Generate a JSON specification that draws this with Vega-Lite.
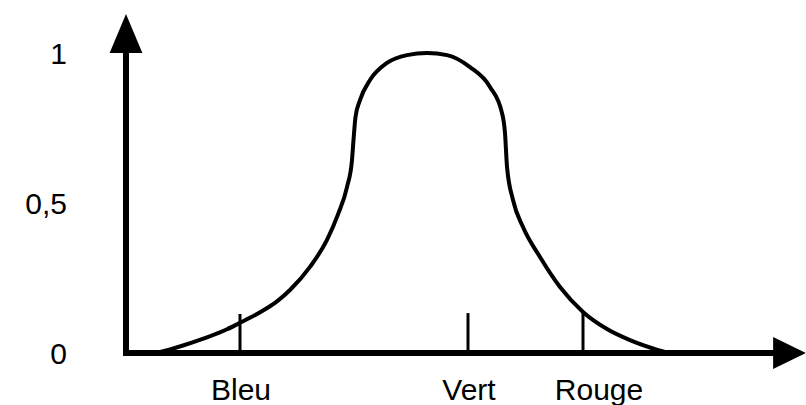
{
  "$schema": "https://vega.github.io/schema/vega-lite/v6.json",
  "width": 806,
  "height": 405,
  "autosize": "none",
  "padding": 0,
  "background": "white",
  "config": {"view": {"stroke": null}},
  "datasets": {
    "curve": [
      {"x": 156, "v": 0},
      {"x": 170, "v": 0.012},
      {"x": 183, "v": 0.025},
      {"x": 207, "v": 0.052},
      {"x": 227, "v": 0.079},
      {"x": 239, "v": 0.099},
      {"x": 257, "v": 0.13},
      {"x": 277, "v": 0.172},
      {"x": 290, "v": 0.21},
      {"x": 310, "v": 0.287},
      {"x": 327, "v": 0.377},
      {"x": 338, "v": 0.462},
      {"x": 347, "v": 0.553},
      {"x": 352, "v": 0.643},
      {"x": 353.5, "v": 0.71},
      {"x": 355.5, "v": 0.787},
      {"x": 360, "v": 0.843},
      {"x": 370, "v": 0.91},
      {"x": 387, "v": 0.967},
      {"x": 407, "v": 0.993},
      {"x": 427, "v": 1.0},
      {"x": 447, "v": 0.993},
      {"x": 470, "v": 0.953},
      {"x": 490, "v": 0.887},
      {"x": 502, "v": 0.8},
      {"x": 505, "v": 0.733},
      {"x": 507, "v": 0.621},
      {"x": 513, "v": 0.51},
      {"x": 523, "v": 0.42},
      {"x": 540, "v": 0.32},
      {"x": 560, "v": 0.22},
      {"x": 583, "v": 0.137},
      {"x": 607, "v": 0.08},
      {"x": 630, "v": 0.043},
      {"x": 653, "v": 0.015},
      {"x": 668, "v": 0}
    ],
    "axes": [
      {"x": 123, "v": 0, "x2": 780, "v2": 0},
      {"x": 126, "v": -0.008, "x2": 126, "v2": 1.02}
    ],
    "arrows": [
      {"x": 126, "v": 1.065, "dir": "up"},
      {"x": 789.5, "v": 0, "dir": "right"}
    ],
    "ticks": [
      {"name": "Bleu", "x": 240, "v": 0, "v2": 0.13},
      {"name": "Vert", "x": 468, "v": 0, "v2": 0.133},
      {"name": "Rouge", "x": 583, "v": 0, "v2": 0.137}
    ],
    "xlabels": [
      {"label": "Bleu", "x": 241, "v": 0},
      {"label": "Vert", "x": 469, "v": 0},
      {"label": "Rouge", "x": 599, "v": 0}
    ],
    "ylabels": [
      {"label": "1", "x": 67, "v": 1},
      {"label": "0,5", "x": 67, "v": 0.5},
      {"label": "0", "x": 67, "v": 0}
    ]
  },
  "encoding": {
    "x": {"field": "x", "type": "quantitative", "scale": {"domain": [0, 806], "nice": false, "zero": false}, "axis": null},
    "y": {"field": "v", "type": "quantitative", "scale": {"domain": [-0.17333, 1.17667], "nice": false, "zero": false}, "axis": null}
  },
  "layer": [
    {
      "data": {"name": "axes"},
      "mark": {"type": "rule", "color": "black", "strokeWidth": 6},
      "encoding": {
        "x2": {"field": "x2"},
        "y2": {"field": "v2"}
      }
    },
    {
      "data": {"name": "arrows"},
      "mark": {"type": "point", "filled": true, "color": "black", "opacity": 1, "strokeWidth": 0, "size": 1190},
      "encoding": {
        "shape": {
          "field": "dir",
          "type": "nominal",
          "scale": {"domain": ["up", "right"], "range": ["M0,-1.13L-0.95,1.13L0.95,1.13Z", "M0.95,0L-0.95,-0.93L-0.95,0.93Z"]},
          "legend": null
        }
      }
    },
    {
      "data": {"name": "ticks"},
      "mark": {"type": "rule", "color": "black", "strokeWidth": 3},
      "encoding": {
        "y2": {"field": "v2"}
      }
    },
    {
      "data": {"name": "curve"},
      "mark": {"type": "line", "color": "black", "strokeWidth": 4, "interpolate": "monotone"},
      "encoding": {}
    },
    {
      "data": {"name": "xlabels"},
      "mark": {"type": "text", "font": "Liberation Sans", "fontSize": 30, "color": "black", "align": "center", "baseline": "alphabetic", "dy": 47},
      "encoding": {"text": {"field": "label"}}
    },
    {
      "data": {"name": "ylabels"},
      "mark": {"type": "text", "font": "Liberation Sans", "fontSize": 30, "color": "black", "align": "right", "baseline": "alphabetic", "dy": 11},
      "encoding": {
        "text": {"field": "label"}
      }
    }
  ]
}
